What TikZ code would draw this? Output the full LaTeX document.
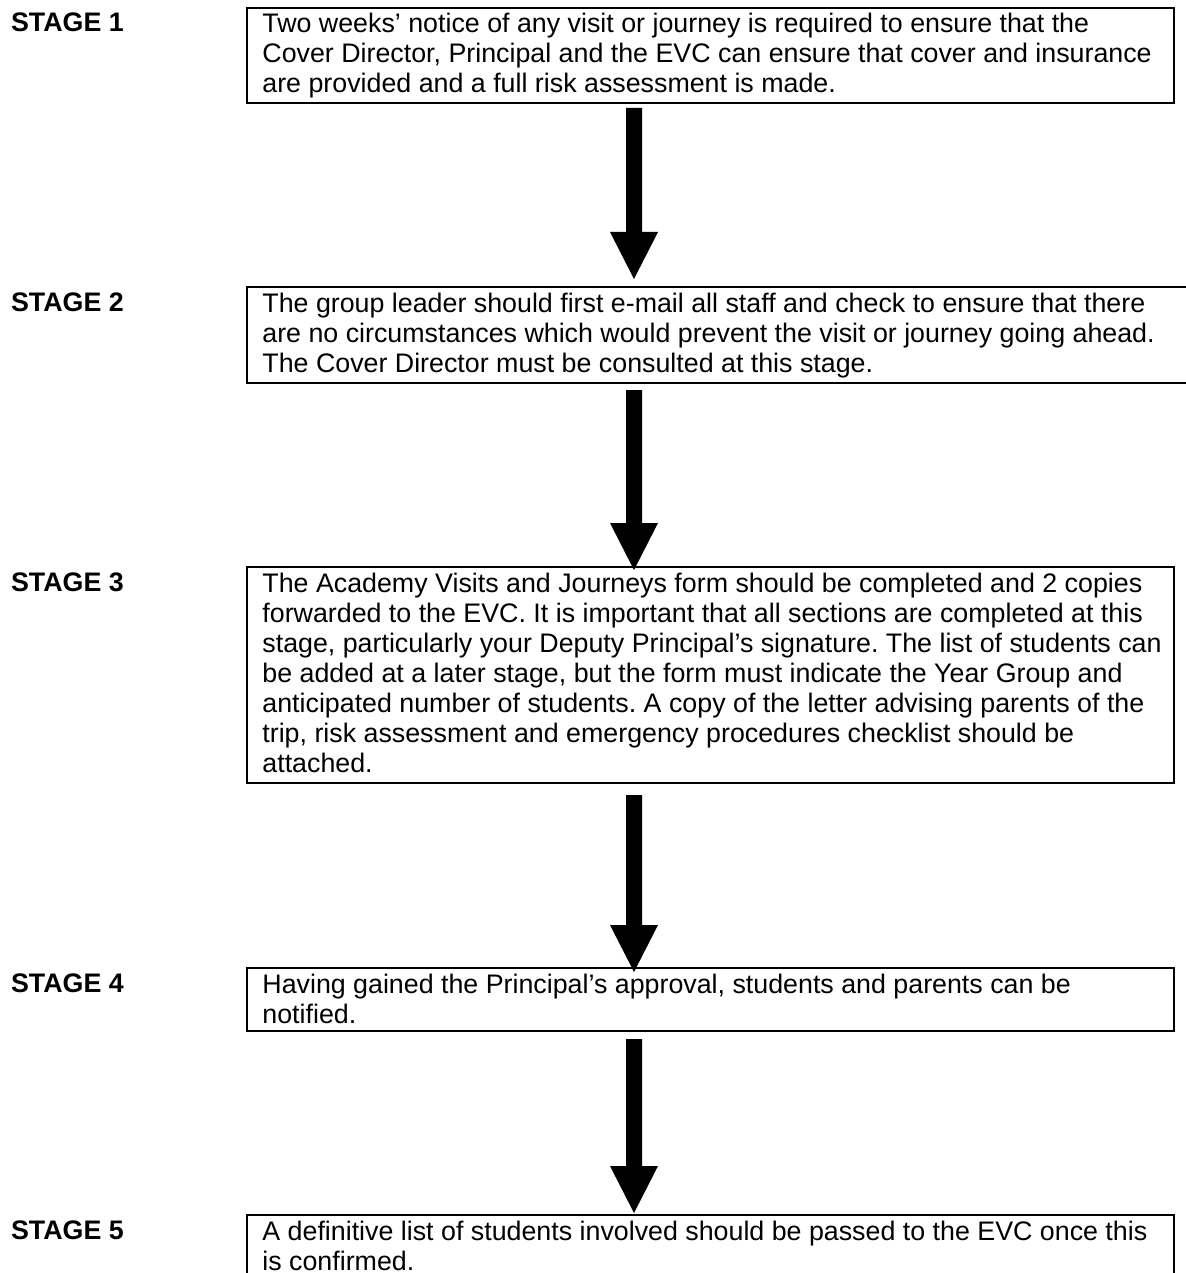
\documentclass[tikz,border=0pt]{standalone}
\usepackage{fontspec}
\setmainfont{Liberation Sans}
\usetikzlibrary{calc}
\frenchspacing
\newcommand\boxfont{\fontsize{13.4pt}{15pt}\selectfont}
% #1 start node, #2 end node, #3 gap below start, #4 tip offset from end top
\newcommand\flowarrow[4]{%
  \fill ($(#1.south -| ax)+(-8,#3)$)
     -- ($(#2.north -| ax)+(-8,#4-47)$)
     -- ($(#2.north -| ax)+(-24,#4-47)$)
     -- ($(#2.north -| ax)+(0,#4)$)
     -- ($(#2.north -| ax)+(24,#4-47)$)
     -- ($(#2.north -| ax)+(8,#4-47)$)
     -- ($(#1.south -| ax)+(8,#3)$) -- cycle;}
\tikzset{
  stagebox/.style={draw=black, line width=1pt, anchor=north west, inner sep=0pt, minimum width=463.5pt},
  stagelabel/.style={anchor=base west, inner sep=0pt, font=\bfseries\boxfont},
  boxtext/.style={anchor=base west, inner sep=0pt, font=\boxfont},
}
\newcommand\lines[1]{\parbox[t]{470pt}{\raggedright\frenchspacing #1}}
\begin{document}
\begin{tikzpicture}[x=0.5pt, y=-0.5pt]
\useasboundingbox (0,0) rectangle (1186,1273);
\clip (0,0) rectangle (1186,1273);
\fill[white] (0,0) rectangle (1186,1273);
\coordinate (ax) at (634,0);

% boxes
\node[stagebox, minimum height=47.5pt] (b1) at (246,7) {};
\node[stagebox, minimum height=48pt, minimum width=490pt] (b2) at (246,286) {};
\node[stagebox, minimum height=108pt] (b3) at (246,566) {};
\node[stagebox, minimum height=31.5pt] (b4) at (246,967) {};
\node[stagebox, minimum height=48pt] (b5) at (246,1214) {};

% stage labels
\node[stagelabel] (s1) at (10.7,32) {STAGE 1};
\node[stagelabel] (s2) at (10.7,311) {STAGE 2};
\node[stagelabel] (s3) at (10.7,591) {STAGE 3};
\node[stagelabel] (s4) at (10.7,992) {STAGE 4};
\node[stagelabel] (s5) at (10.7,1239) {STAGE 5};

% box texts
\node[boxtext] (t1) at (262,33) {\lines{Two weeks’ notice of any visit or journey is required to ensure that the\\
Cover Director, Principal and the EVC can ensure that cover and insurance\\
are provided and a full risk assessment is made.}};
\node[boxtext] (t2) at (262,312) {\lines{The group leader should first e-mail all staff and check to ensure that there\\
are no circumstances which would prevent the visit or journey going ahead.\\
The Cover Director must be consulted at this stage.}};
\node[boxtext] (t3) at (262,592) {\lines{The Academy Visits and Journeys form should be completed and 2 copies\\
forwarded to the EVC. It is important that all sections are completed at this\\
stage, particularly your Deputy Principal’s signature. The list of students can\\
be added at a later stage, but the form must indicate the Year Group and\\
anticipated number of students. A copy of the letter advising parents of the\\
trip, risk assessment and emergency procedures checklist should be\\
attached.}};
\node[boxtext] (t4) at (262,993) {\lines{Having gained the Principal’s approval, students and parents can be\\
notified.}};
\node[boxtext] (t5) at (262,1240) {\lines{A definitive list of students involved should be passed to the EVC once this\\
is confirmed.}};

% arrows
\flowarrow{b1}{b2}{4}{-7}
\flowarrow{b2}{b3}{6}{4}
\flowarrow{b3}{b4}{11}{5}
\flowarrow{b4}{b5}{7}{-1}
\end{tikzpicture}
\end{document}
